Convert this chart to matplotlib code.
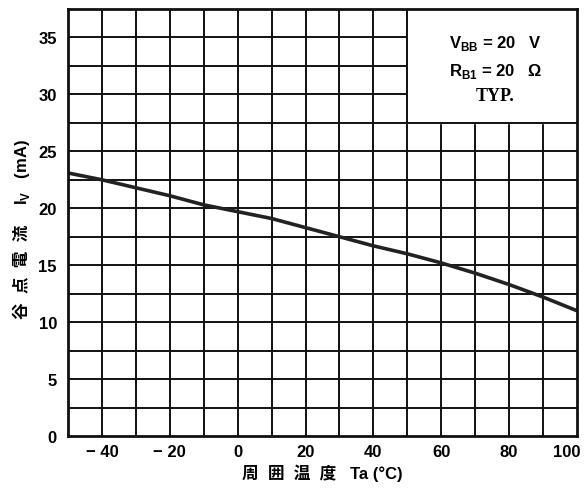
import numpy as np
from matplotlib import pyplot as plt
from matplotlib import transforms

plt.rcParams['font.family'] = ['Liberation Sans', 'Noto Sans CJK JP', 'DejaVu Sans']
plt.rcParams['mathtext.fontset'] = 'custom'
plt.rcParams['mathtext.rm'] = 'Liberation Sans:bold'

# (Ta in degC, Iv in mA)
temp = [-50, -40, -30, -20, -10, 0, 10, 20, 30, 40, 50, 60, 70, 80, 90, 100]
iv = [23.1, 22.5, 21.8, 21.1, 20.3, 19.7, 19.1, 18.3, 17.5, 16.7,
      16.0, 15.2, 14.3, 13.3, 12.2, 11.0]

x_ticks = [-40, -20, 0, 20, 40, 60, 80, 100]
x_labels = ['\u2212 40', '\u2212 20', '0', '20', '40', '60', '80', '100']
y_ticks = [0, 5, 10, 15, 20, 25, 30, 35]

fig = plt.figure(figsize=(5.87, 5.02), dpi=100)
ax = fig.add_axes([68 / 587, 1 - 437 / 502, 509 / 587, 427 / 502])
ax.set_xlim(-50, 100)
ax.set_ylim(0, 37.5)

for gx in np.arange(-40, 100, 10):
    ax.axvline(gx, color='#111111', lw=1.4, zorder=1)
for gy in np.arange(2.5, 37.5, 2.5):
    ax.axhline(gy, color='#111111', lw=1.4, zorder=1)

# note box in the upper right corner
ax.fill_between([50, 100], 27.5, 37.5, color='white', zorder=2)
ax.plot([50, 50, 100], [37.5, 27.5, 27.5], color='#111111', lw=1.4, zorder=3)
ax.text(76, 34.6, r'V$_\mathregular{BB}$ = 20   V', ha='center', va='center',
        fontsize=12, fontweight='bold', zorder=4)
ax.text(76, 32.1, r'R$_\mathregular{B1}$ = 20   $\Omega$', ha='center', va='center',
        fontsize=12, fontweight='bold', zorder=4)
ax.text(76, 29.9, 'TYP.', ha='center', va='center', fontsize=13,
        family='Liberation Serif', fontweight='bold', zorder=4)

ax.plot(temp, iv, color='#222222', lw=2.6, zorder=5)

for s in ax.spines.values():
    s.set_linewidth(2)
    s.set_color('#111111')
    s.set_zorder(6)

ax.set_xticks(x_ticks)
ax.set_xticklabels(x_labels)
ax.set_yticks(y_ticks)
ax.tick_params(length=0, labelsize=12)
ax.tick_params(axis='x', pad=6)
ax.tick_params(axis='y', pad=8)
for lab in ax.get_xticklabels() + ax.get_yticklabels():
    lab.set_fontweight('bold')
last = ax.get_xticklabels()[-1]
last.set_transform(last.get_transform() +
                   transforms.ScaledTranslation(-0.1, 0, fig.dpi_scale_trans))

ax.set_xlabel('周  囲  温  度   Ta (°C)', fontsize=12, fontweight='bold', labelpad=3)

# y label: CJK part as plain text, I_V part with mathtext
fig.text(22 / 587, 1 - 272 / 502, '谷  点  電  流', rotation=90, ha='center',
         va='center', fontsize=12, fontweight='bold')
fig.text(22 / 587, 1 - 172 / 502, r'I$_\mathregular{V}$   (mA)', rotation=90,
         ha='center', va='center', fontsize=12, fontweight='bold')

fig.savefig('out.png', dpi=100)
